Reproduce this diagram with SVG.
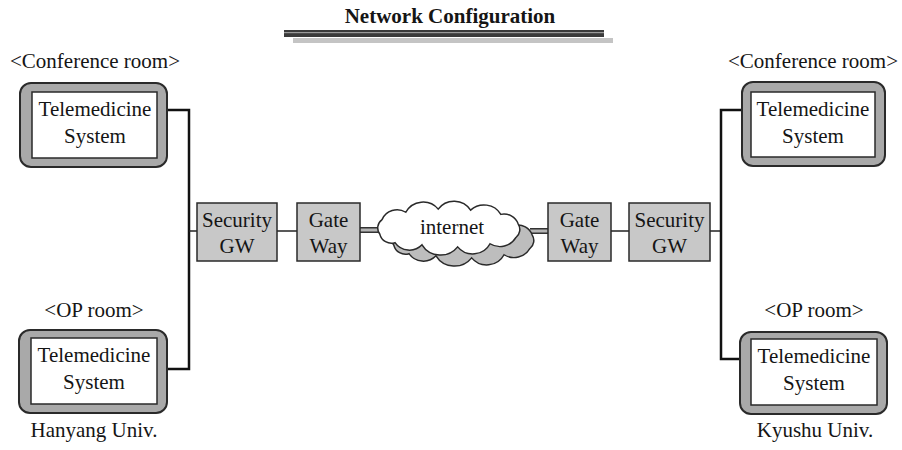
<svg xmlns="http://www.w3.org/2000/svg" width="902" height="450" viewBox="0 0 902 450">
  <defs>
    <style>
      text { font-family: "Liberation Serif", "Times New Roman", serif; font-size: 21px; fill: #151515; text-anchor: middle; }
      .title { font-weight: bold; }
      .frame { fill: #a9a9a9; stroke: #2a2a2a; stroke-width: 2; }
      .panel { fill: #ffffff; stroke: #2a2a2a; stroke-width: 1.5; }
      .device { fill: #c8c8c8; stroke: #2a2a2a; stroke-width: 1.5; }
      .bus { fill: none; stroke: #111; stroke-width: 2.5; }
      .link { fill: none; stroke: #222; stroke-width: 1.5; }
      .pipe-out { fill: none; stroke: #333; stroke-width: 6; }
      .pipe-in { fill: none; stroke: #b5b5b5; stroke-width: 3; }
      .cloud { stroke: #2a2a2a; stroke-width: 1.4; }
    </style>
    <path id="cloudShape" d="M -64,6 A 10,10 0 0 1 -62,-8 A 15,15 0 0 1 -40,-15 A 18,18 0 0 1 -10,-18 A 18,18 0 0 1 20,-17 A 18,18 0 0 1 48,-13 A 14,14 0 0 1 64,-4 A 10,10 0 0 1 62,9 A 17,17 0 0 1 38,15 A 18,18 0 0 1 8,18 A 20,20 0 0 1 -25,16 A 16,16 0 0 1 -50,14 A 11,11 0 0 1 -64,6 Z"/>
  </defs>

  <rect width="902" height="450" fill="#ffffff"/>

  <!-- heading with ruled underline -->
  <g id="title">
    <text class="title" x="450" y="23">Network Configuration</text>
    <rect x="284" y="30" width="320" height="7" fill="#3a3a3a"/>
    <rect x="284" y="32" width="320" height="1.2" fill="#9a9a9a"/>
    <rect x="293" y="38" width="320" height="5" fill="#c4c4c4"/>
  </g>

  <!-- connectors -->
  <g id="connectors">
    <polyline class="bus" points="167,110 189,110 189,369 167,369"/>
    <line class="link" x1="189" y1="231" x2="197" y2="231"/>
    <line class="link" x1="277" y1="231" x2="297" y2="231"/>
    <line class="pipe-out" x1="360" y1="230" x2="380" y2="230"/>
    <line class="pipe-in" x1="359" y1="230" x2="381" y2="230"/>
    <line class="pipe-out" x1="530" y1="231" x2="548" y2="231"/>
    <line class="pipe-in" x1="529" y1="231" x2="549" y2="231"/>
    <line class="link" x1="611" y1="231" x2="629" y2="231"/>
    <line class="link" x1="710" y1="231" x2="721" y2="231"/>
    <polyline class="bus" points="742,110 721,110 721,359 740,359"/>
  </g>

  <!-- Hanyang side -->
  <text x="95" y="68">&lt;Conference room&gt;</text>
  <g id="hy-conference">
    <rect class="frame" x="20" y="83" width="147" height="84" rx="11"/>
    <rect class="panel" x="32" y="92" width="125" height="66"/>
    <text x="95" y="116">Telemedicine</text>
    <text x="95" y="143">System</text>
  </g>

  <text x="94" y="317">&lt;OP room&gt;</text>
  <g id="hy-op">
    <rect class="frame" x="19" y="330" width="148" height="83" rx="11"/>
    <rect class="panel" x="31" y="338" width="126" height="66"/>
    <text x="94" y="362">Telemedicine</text>
    <text x="94" y="389">System</text>
  </g>
  <text x="94" y="437">Hanyang Univ.</text>

  <g id="hy-security">
    <rect class="device" x="197" y="203" width="80" height="58"/>
    <text x="237" y="227">Security</text>
    <text x="237" y="253">GW</text>
  </g>
  <g id="hy-gateway">
    <rect class="device" x="297" y="203" width="63" height="58"/>
    <text x="328.5" y="227">Gate</text>
    <text x="328.5" y="253">Way</text>
  </g>

  <!-- internet cloud with drop shadow -->
  <g id="internet">
    <use href="#cloudShape" class="cloud" fill="#bdbdbd" transform="translate(463,239) scale(1.08,1.05)"/>
    <use href="#cloudShape" class="cloud" fill="#ffffff" transform="translate(449,228) scale(1.08,1.05)"/>
    <text x="452" y="234">internet</text>
  </g>

  <!-- Kyushu side -->
  <g id="ky-gateway">
    <rect class="device" x="548" y="203" width="63" height="58"/>
    <text x="579.5" y="227">Gate</text>
    <text x="579.5" y="253">Way</text>
  </g>
  <g id="ky-security">
    <rect class="device" x="629" y="203" width="81" height="58"/>
    <text x="669.5" y="227">Security</text>
    <text x="669.5" y="253">GW</text>
  </g>

  <text x="813" y="68">&lt;Conference room&gt;</text>
  <g id="ky-conference">
    <rect class="frame" x="742" y="82" width="143" height="84" rx="11"/>
    <rect class="panel" x="751" y="92" width="124" height="65"/>
    <text x="813" y="116">Telemedicine</text>
    <text x="813" y="143">System</text>
  </g>

  <text x="814" y="317">&lt;OP room&gt;</text>
  <g id="ky-op">
    <rect class="frame" x="740" y="332" width="147" height="82" rx="11"/>
    <rect class="panel" x="751" y="339" width="126" height="66"/>
    <text x="814" y="363">Telemedicine</text>
    <text x="814" y="390">System</text>
  </g>
  <text x="815" y="437">Kyushu Univ.</text>
</svg>
